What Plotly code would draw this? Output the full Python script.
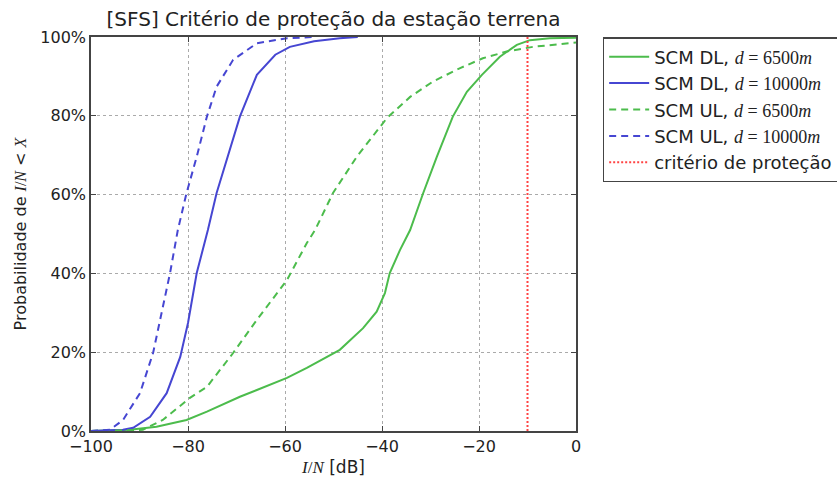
import plotly.graph_objects as go

# ---- data ----
dl_6500_x = [-100, -92.0, -86.5, -80.3, -76.1, -69.3, -65.8, -59.6, -55.5, -48.7, -43.9, -41.1, -39.4, -38.4,
             -36.3, -34.2, -31.5, -28.7, -25.4, -22.5, -19.4, -15.7, -12.2, -9.5, -5.4, 0]
dl_6500_y = [0, 0.3, 1.1, 2.8, 4.9, 8.7, 10.4, 13.5, 16.0, 20.6, 26.1, 30.3, 35.0, 40.1,
             45.9, 51.0, 60.4, 69.6, 79.8, 86.1, 90.4, 95.0, 98.0, 99.2, 99.7, 99.8]

dl_10000_x = [-100, -93.4, -91.3, -87.8, -84.4, -81.6, -80.0, -78.2, -75.9, -74.1, -69.3, -65.8, -62.0, -59.0,
              -54.0, -48.7, -45.0]
dl_10000_y = [0, 0.3, 0.8, 3.6, 9.6, 18.8, 27.4, 40.1, 51.0, 60.4, 79.8, 90.4, 95.5, 97.5,
              98.9, 99.7, 100]

ul_6500_x = [-100, -89.3, -85.2, -79.6, -76.1, -70.7, -65.8, -59.6, -55.5, -53.8, -50.1, -45.2, -39.0, -34.2,
             -29.5, -23.9, -19.2, -14.3, -8.9, -1.2, 0]
ul_6500_y = [0, 0.3, 2.8, 8.4, 11.2, 19.8, 28.2, 38.3, 47.7, 51.0, 60.4, 69.6, 79.4, 84.8,
             88.7, 92.1, 94.6, 96.3, 97.5, 98.5, 98.6]

ul_10000_x = [-100, -96.1, -93.4, -89.9, -87.2, -83.7, -82.1, -80.3, -78.2, -76.1, -74.1, -70.7, -65.8, -59.6,
              -54.0]
ul_10000_y = [0, 0.3, 2.8, 9.6, 19.8, 40.1, 51.0, 60.4, 69.6, 79.8, 87.4, 94.2, 98.4, 99.7,
              100]

criterio_x = [-10, -10]
criterio_y = [0, 100]

x_ticks = [-100, -80, -60, -40, -20, 0]
y_ticks = [0, 20, 40, 60, 80, 100]
y_tick_labels = ["0%", "20%", "40%", "60%", "80%", "100%"]

GREEN = "#4cbc4c"
BLUE = "#4646d2"
RED = "#ff4444"
MATH = "font-family:'Liberation Serif'"


def lab(kind, d):
    return (f"SCM {kind}, <span style=\"{MATH}\"><i>d</i> = {d}<i>m</i></span>")


fig = go.Figure()
fig.add_trace(go.Scatter(x=dl_6500_x, y=dl_6500_y, mode="lines", name=lab("DL", 6500),
                         line=dict(color=GREEN, width=2)))
fig.add_trace(go.Scatter(x=dl_10000_x, y=dl_10000_y, mode="lines", name=lab("DL", 10000),
                         line=dict(color=BLUE, width=2)))
fig.add_trace(go.Scatter(x=ul_6500_x, y=ul_6500_y, mode="lines", name=lab("UL", 6500),
                         line=dict(color=GREEN, width=2, dash="7px,5px")))
fig.add_trace(go.Scatter(x=ul_10000_x, y=ul_10000_y, mode="lines", name=lab("UL", 10000),
                         line=dict(color=BLUE, width=2, dash="7px,5px")))
fig.add_trace(go.Scatter(x=criterio_x, y=criterio_y, mode="lines", name="critério de proteção",
                         line=dict(color=RED, width=2, dash="2px,2px")))

axis_common = dict(
    showline=True, linecolor="#444", linewidth=1.5, mirror="ticks",
    ticks="inside", ticklen=5, tickcolor="#444", tickwidth=1,
    showgrid=True, gridcolor="#aaaaaa", griddash="dot", gridwidth=1,
    zeroline=False, tickfont=dict(family="DejaVu Sans", size=16, color="#222"),
)

fig.update_xaxes(range=[-100, 0], tickvals=x_ticks, **axis_common,
                 title=dict(text=f"<span style=\"{MATH}\"><i>I</i>/<i>N</i></span> [dB]",
                            font=dict(family="DejaVu Sans", size=17, color="#222"), standoff=6))
fig.update_yaxes(range=[0, 100], tickvals=y_ticks, ticktext=y_tick_labels, **axis_common,
                 title=dict(text=f"Probabilidade de <span style=\"{MATH}\"><i>I</i>/<i>N</i></span> &lt; "
                                 f"<span style=\"{MATH}\"><i>X</i></span>",
                            font=dict(family="DejaVu Sans", size=16, color="#222"), standoff=10))

fig.update_layout(
    width=837, height=479,
    margin=dict(l=91, r=261, t=37, b=48, autoexpand=False),
    plot_bgcolor="white", paper_bgcolor="white",
    title=dict(text="[SFS] Critério de proteção da estação terrena", x=0.5, xref="paper",
               y=1 - 19 / 479, yref="container", yanchor="middle", xanchor="center",
               font=dict(family="DejaVu Sans", size=20, color="#222")),
    legend=dict(x=1.055, y=1.0, xanchor="left", yanchor="top", xref="paper", yref="paper",
                bgcolor="white", bordercolor="#444", borderwidth=1.5,
                font=dict(family="DejaVu Sans", size=18, color="#222"),
                tracegroupgap=0, itemwidth=40),
    showlegend=True,
)

fig.write_html("out.html")
